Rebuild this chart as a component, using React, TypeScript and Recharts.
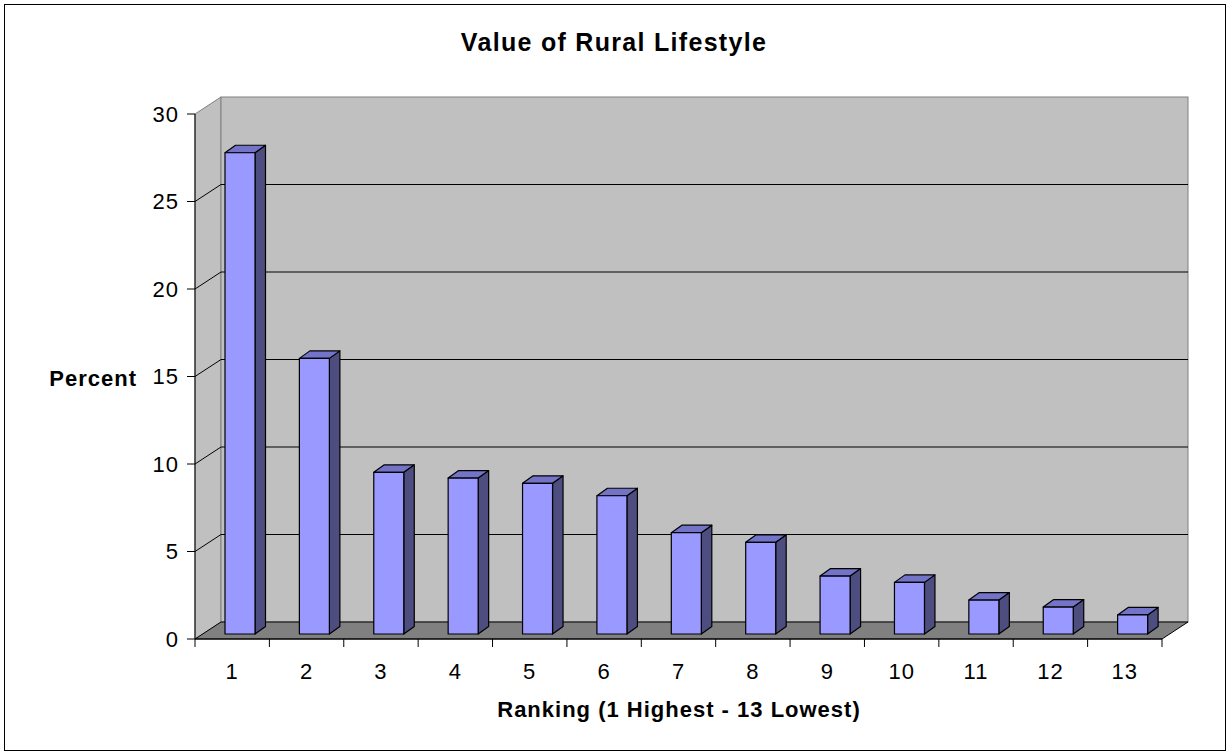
import { BarChart, Bar, XAxis, YAxis, CartesianGrid, ReferenceArea } from 'recharts';

const rankings = ['1', '2', '3', '4', '5', '6', '7', '8', '9', '10', '11', '12', '13'];
const percents = [27.5, 15.75, 9.24, 8.91, 8.61, 7.9, 5.79, 5.24, 3.31, 2.95, 1.94, 1.54, 1.09];
const yTicks = [0, 5, 10, 15, 20, 25, 30];

const chartData = rankings.map((rank, i) => ({ rank, percent: percents[i] }));

const FONT = '"Liberation Sans", Arial, sans-serif';
// oblique depth of the 3D box (walls / floor)
const DX = 26;
const DY = 17;
// bar placement in depth and bar thickness
const BAR_SHIFT_X = 8;
const BAR_SHIFT_Y = 5;
const BAR_DX = 10.5;
const BAR_DY = 7.5;

function Walls(props: any) {
  const { x, y, width, height } = props;
  const b = y + height;
  return (
    <g>
      {/* side wall */}
      <polygon
        points={`${x},${y} ${x + DX},${y - DY} ${x + DX},${b - DY} ${x},${b}`}
        fill="#c0c0c0"
        stroke="#808080"
        strokeWidth={1}
      />
      {/* back wall */}
      <rect x={x + DX} y={y - DY} width={width} height={height} fill="#c0c0c0" stroke="#808080" strokeWidth={1} />
      {/* floor */}
      <polygon
        points={`${x},${b} ${x + width},${b} ${x + width + DX},${b - DY} ${x + DX},${b - DY}`}
        fill="#808080"
        stroke="#000"
        strokeWidth={1}
      />
    </g>
  );
}

function GridLine(props: any) {
  const { x1, y1, x2, index, y, height } = props;
  const top = typeof y === 'number' ? y : null;
  const bottom = typeof y === 'number' && typeof height === 'number' ? y + height : null;
  if (top !== null && Math.abs(y1 - top) < 0.5) return <g key={`g-${index}`} />;
  if (bottom !== null && Math.abs(y1 - bottom) < 0.5) return <g key={`g-${index}`} />;
  return (
    <polyline
      key={`g-${index}`}
      points={`${x1},${y1} ${x1 + DX},${y1 - DY} ${x2 + DX},${y1 - DY}`}
      fill="none"
      stroke="#000"
      strokeWidth={1}
    />
  );
}

function Box3D(props: any) {
  const { x, y, width, height } = props;
  if (width == null || height == null) return null;
  const fx = x + BAR_SHIFT_X;
  const fy = y - BAR_SHIFT_Y;
  const r = fx + width;
  const b = fy + height;
  return (
    <g stroke="#000" strokeWidth={1.2} strokeLinejoin="round">
      <polygon
        points={`${r},${fy} ${r + BAR_DX},${fy - BAR_DY} ${r + BAR_DX},${b - BAR_DY} ${r},${b}`}
        fill="#4d4d80"
      />
      <polygon
        points={`${fx},${fy} ${fx + BAR_DX},${fy - BAR_DY} ${r + BAR_DX},${fy - BAR_DY} ${r},${fy}`}
        fill="#7373c8"
      />
      <rect x={fx} y={fy} width={width} height={height} fill="#9999ff" />
    </g>
  );
}

function RankTick(props: any) {
  const { x, y, payload, index } = props;
  const half = payload && payload.offset ? payload.offset : 37.2;
  const top = y - 10;
  return (
    <g>
      <line x1={x - half} y1={top} x2={x - half} y2={top + 8} stroke="#000" strokeWidth={1} />
      {index === rankings.length - 1 && (
        <line x1={x + half} y1={top} x2={x + half} y2={top + 8} stroke="#000" strokeWidth={1} />
      )}
      <text x={x} y={y + 30} textAnchor="middle" fill="#000" fontSize={22} fontFamily={FONT} letterSpacing={1}>
        {payload.value}
      </text>
    </g>
  );
}

export default function App() {
  return (
    <div style={{ position: 'absolute', left: 0, top: 0, width: 1230, height: 756, background: '#fff' }}>
      <div
        style={{
          position: 'absolute',
          left: 4,
          top: 4,
          width: 1220,
          height: 745,
          border: '1px solid #000',
        }}
      />
      <BarChart
        width={1230}
        height={756}
        data={chartData}
        margin={{ top: 114, right: 68, left: 135, bottom: 87 }}
        barSize={30}
      >
        <ReferenceArea y1={0} y2={30} ifOverflow="visible" shape={<Walls />} zIndex={-200} />
        <CartesianGrid vertical={false} horizontal={(p: any) => <GridLine {...p} />} zIndex={-100} />
        <XAxis
          dataKey="rank"
          axisLine={{ stroke: '#000', strokeWidth: 1 }}
          tickLine={false}
          tickSize={8}
          tickMargin={2}
          interval={0}
          tick={<RankTick />}
        />
        <YAxis
          width={60}
          domain={[0, 30]}
          ticks={yTicks}
          interval={0}
          axisLine={{ stroke: '#000', strokeWidth: 1 }}
          tickLine={{ stroke: '#000', strokeWidth: 1 }}
          tickSize={8}
          tickMargin={8}
          tick={{ fill: '#000', fontSize: 22, fontFamily: FONT, letterSpacing: 1 }}
        />
        <Bar dataKey="percent" shape={<Box3D />} isAnimationActive={false} />
      </BarChart>
      <svg
        width={1230}
        height={756}
        style={{ position: 'absolute', left: 0, top: 0, pointerEvents: 'none' }}
        fontFamily={FONT}
        fontWeight="bold"
        fill="#000"
      >
        <text x={614} y={51} textAnchor="middle" fontSize={25} letterSpacing={1.3}>
          Value of Rural Lifestyle
        </text>
        <text x={137} y={386} textAnchor="end" fontSize={22} letterSpacing={1}>
          Percent
        </text>
        <text x={679} y={717} textAnchor="middle" fontSize={22} letterSpacing={1}>
          Ranking (1 Highest - 13 Lowest)
        </text>
      </svg>
    </div>
  );
}
